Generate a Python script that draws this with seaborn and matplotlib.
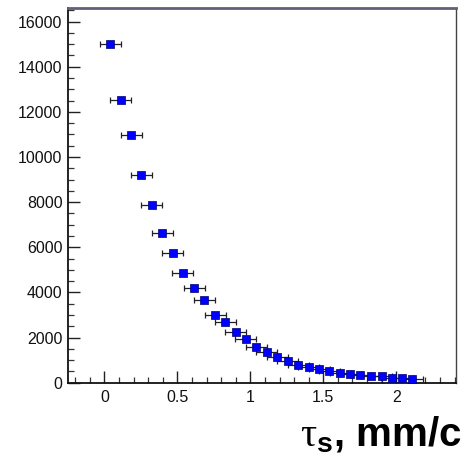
import numpy as np
import pandas as pd
import matplotlib
matplotlib.use("Agg")
import matplotlib.pyplot as plt
import seaborn as sns
from matplotlib.ticker import MultipleLocator, FuncFormatter

# Decay-time distribution: bin centres and counts
tau = [0.039, 0.110, 0.183, 0.252, 0.325, 0.396, 0.467, 0.538, 0.614, 0.683,
       0.759, 0.828, 0.900, 0.969, 1.042, 1.113, 1.184, 1.258, 1.329, 1.400,
       1.471, 1.542, 1.615, 1.684, 1.755, 1.828, 1.900, 1.970, 2.040, 2.110]
counts = [15000, 12525, 10995, 9207, 7863, 6622, 5762, 4876, 4211, 3652,
          2988, 2677, 2261, 1924, 1596, 1374, 1152, 962, 785, 683,
          607, 519, 443, 386, 355, 284, 284, 222, 208, 177]
tau_err = [0.072] * len(tau)

x_ticks = [0, 0.5, 1, 1.5, 2]
x_tick_labels = ["0", "0.5", "1", "1.5", "2"]
y_ticks = [0, 2000, 4000, 6000, 8000, 10000, 12000, 14000, 16000]

df = pd.DataFrame({"tau": tau, "counts": counts, "err": tau_err})

sns.set_style("white")
plt.rcParams["font.family"] = ["Liberation Sans", "DejaVu Sans"]
plt.rcParams["mathtext.fontset"] = "custom"
plt.rcParams["mathtext.rm"] = "Liberation Serif"
plt.rcParams["mathtext.bf"] = "Liberation Sans:bold"

fig = plt.figure(figsize=(4.70, 4.59), dpi=100)
ax = fig.add_axes([68 / 470, 1 - 382.7 / 459, (456 - 68) / 470, (382.7 - 8) / 459])

ax.errorbar(df["tau"], df["counts"], xerr=df["err"], fmt="none",
            ecolor="#222222", elinewidth=0.9, capsize=2.2, capthick=0.9, zorder=2)
sns.scatterplot(data=df, x="tau", y="counts", marker="s", s=33,
                color="#0000ff", edgecolor="#000070", linewidth=0.5,
                ax=ax, zorder=3, legend=False)

ax.set_xlim(-0.25, 2.41)
ax.set_ylim(0, 16600)
ax.set_xticks(x_ticks)
ax.xaxis.set_major_formatter(FuncFormatter(
    lambda v, p: x_tick_labels[x_ticks.index(round(v, 2))] if round(v, 2) in x_ticks else ""))
ax.xaxis.set_minor_locator(MultipleLocator(0.1))
ax.set_yticks(y_ticks)
ax.yaxis.set_major_formatter(FuncFormatter(lambda v, p: f"{int(v)}"))
ax.yaxis.set_minor_locator(MultipleLocator(500))

ax.tick_params(axis="both", which="major", direction="in", length=8.5, width=1.0,
               color="#222222", labelsize=11.5, labelcolor="#111111", pad=4,
               left=True, bottom=True, top=False, right=False)
ax.tick_params(axis="both", which="minor", direction="in", length=4, width=0.9,
               color="#333333", left=True, bottom=True, top=False, right=False)
ax.tick_params(axis="x", which="major", pad=5)

for side in ["left", "bottom"]:
    ax.spines[side].set_color("#111111")
    ax.spines[side].set_linewidth(1.3)
ax.spines["top"].set_color("#60607a")
ax.spines["top"].set_linewidth(2.0)
ax.spines["right"].set_color("#444444")
ax.spines["right"].set_linewidth(1.0)

ax.set_xlabel("")
ax.set_ylabel("")

fig.text(0.982, 0.028, r"$\mathrm{\tau}_{\mathbf{s}}$" + ", mm/c", ha="right", va="baseline",
         fontsize=29, fontweight="bold", color="#000000",
         family=["Liberation Sans", "DejaVu Sans"])

fig.savefig("out.png", dpi=100)
